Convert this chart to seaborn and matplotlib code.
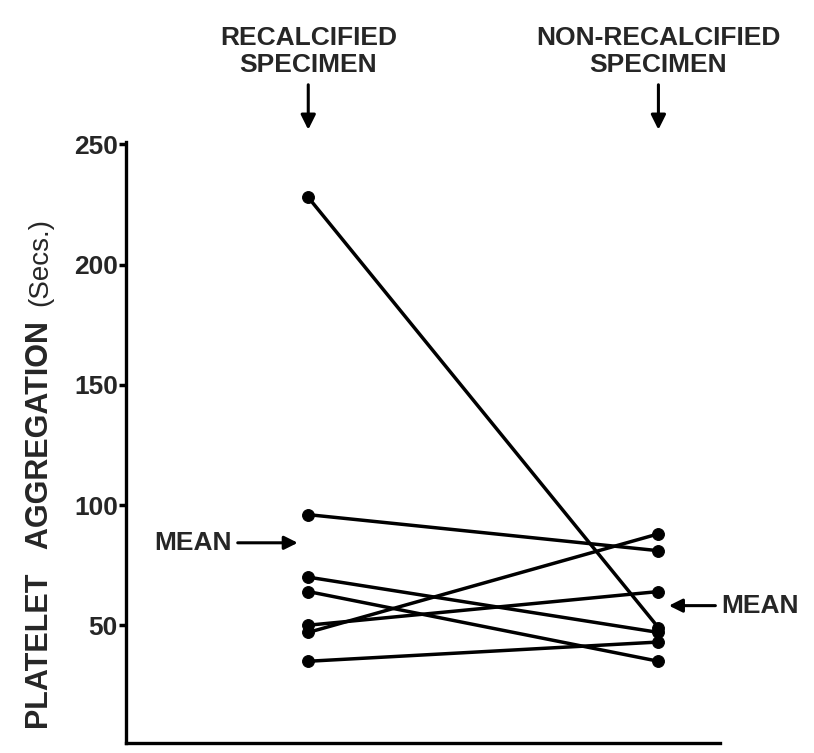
import numpy as np
import pandas as pd
import matplotlib
matplotlib.use("Agg")
import matplotlib.pyplot as plt
import seaborn as sns

# values, one entry per specimen pair
recalcified = [228, 96, 70, 64, 50, 47, 35]
non_recalcified = [49, 81, 47, 35, 64, 88, 43]
conditions = ["RECALCIFIED\nSPECIMEN", "NON-RECALCIFIED\nSPECIMEN"]
y_ticks = [50, 100, 150, 200, 250]

sns.set_theme(style="white")
plt.rcParams["font.family"] = ["Liberation Sans", "DejaVu Sans"]

rows = []
for i, (a, b) in enumerate(zip(recalcified, non_recalcified)):
    rows.append({"subject": i, "pos": 0, "value": a})
    rows.append({"subject": i, "pos": 1, "value": b})
df = pd.DataFrame(rows)

fig = plt.figure(figsize=(8.14, 7.53), dpi=100)
ax = fig.add_axes([0.155, 0.0133, 0.73, 0.798])

sns.lineplot(data=df, x="pos", y="value", units="subject", estimator=None,
             color="black", lw=2.5, marker="o", markersize=8.5,
             markeredgecolor="black", ax=ax, legend=False)

ax.set_xlim(-0.52, 1.177)
ax.set_ylim(1, 251)
ax.set_xticks([])
ax.set_yticks(y_ticks)
ax.set_yticklabels([str(t) for t in y_ticks], fontsize=19, fontweight="bold")
ax.tick_params(axis="y", direction="out", length=5, width=2.5, color="black", pad=1, left=True)
for s in ["top", "right"]:
    ax.spines[s].set_visible(False)
for s in ["left", "bottom"]:
    ax.spines[s].set_color("black")
    ax.spines[s].set_linewidth(2.4)
ax.set_xlabel("")
ax.set_ylabel("")

# headers with arrows pointing down at each column
for x, label in zip([0, 1], conditions):
    ax.text(x, 278, label, ha="center", va="bottom", fontsize=19, fontweight="bold",
            linespacing=1.15, clip_on=False)
    ax.annotate("", xy=(x, 255), xytext=(x, 276),
                arrowprops=dict(arrowstyle="-|>", lw=2.2, color="black", mutation_scale=22),
                annotation_clip=False)

# mean markers
left_mean = np.mean(recalcified)
right_mean = np.mean(non_recalcified)
ax.annotate("MEAN", xy=(-0.03, left_mean), xytext=(-0.44, left_mean),
            ha="left", va="center", fontsize=19, fontweight="bold",
            arrowprops=dict(arrowstyle="-|>", lw=2.2, color="black", mutation_scale=20,
                            shrinkA=2, shrinkB=0))
ax.annotate("MEAN", xy=(1.03, right_mean), xytext=(1.18, right_mean),
            ha="left", va="center", fontsize=19, fontweight="bold",
            arrowprops=dict(arrowstyle="-|>", lw=2.2, color="black", mutation_scale=20,
                            shrinkA=2, shrinkB=0), annotation_clip=False)

fig.text(40 / 814, 1 - 525 / 753, "PLATELET   AGGREGATION", rotation=90,
         ha="center", va="center", fontsize=22, fontweight="bold")
fig.text(40 / 814, 1 - 262 / 753, "(Secs.)", rotation=90,
         ha="center", va="center", fontsize=20)

fig.savefig("out.png", dpi=100)
